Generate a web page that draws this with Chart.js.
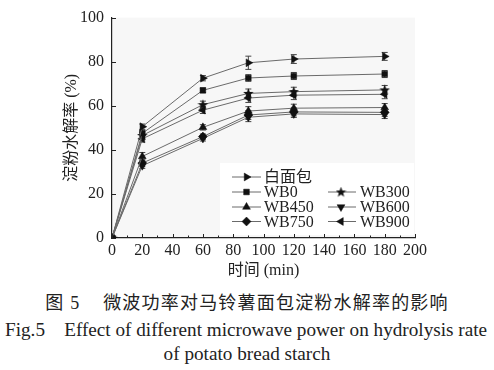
<!DOCTYPE html>
<html><head><meta charset="utf-8">
<script src="https://cdn.jsdelivr.net/npm/chart.js@4"></script>
<style>
html,body{margin:0;padding:0;background:#fff;width:494px;height:370px;overflow:hidden;}
#wrap{position:absolute;left:0;top:0;width:494px;height:285px;}
.cap{position:absolute;white-space:nowrap;color:#222;font-family:"Liberation Serif","Times New Roman","Noto Sans CJK SC",serif;}
</style></head><body>
<div id="wrap"><canvas id="c" width="494" height="285"></canvas></div>
<div class="cap" style="left:0;width:494px;text-align:center;top:288px;font-size:18px;letter-spacing:1.2px;">图 5&nbsp;&nbsp;&nbsp;&nbsp;微波功率对马铃薯面包淀粉水解率的影响</div>
<div class="cap" style="left:5px;top:319px;font-size:19.2px;">Fig.5&nbsp;&nbsp;&nbsp;&nbsp;Effect of different microwave power on hydrolysis rate</div>
<div class="cap" style="left:0;width:494px;text-align:center;top:343px;font-size:19.2px;">of potato bread starch</div>
<script>
// ---- data ----
const times = [0, 20, 60, 90, 120, 180];
const seriesNames = ['白面包', 'WB0', 'WB300', 'WB450', 'WB600', 'WB750', 'WB900'];
const whiteBread = [0, 50.5, 72.5, 79.5, 81.2, 82.4];
const wb0   = [0, 47.5, 67.0, 72.6, 73.5, 74.4];
const wb300 = [0, 46.5, 60.5, 65.6, 66.4, 67.2];
const wb450 = [0, 37.0, 50.2, 57.6, 58.9, 59.2];
const wb600 = [0, 32.8, 45.2, 54.8, 56.3, 56.0];
const wb750 = [0, 34.0, 46.0, 55.8, 57.2, 57.0];
const wb900 = [0, 45.0, 58.0, 63.5, 64.8, 65.2];
const errWhiteBread = [0, 1.2, 1.2, 3.0, 2.0, 1.8];
const errWb0   = [0, 1.5, 1.0, 1.5, 1.6, 1.6];
const errWb300 = [0, 1.5, 1.6, 2.0, 2.0, 2.0];
const errWb450 = [0, 1.8, 1.2, 2.0, 1.8, 1.8];
const errWb600 = [0, 1.2, 1.2, 2.0, 1.6, 1.8];
const errWb750 = [0, 1.5, 1.2, 2.0, 1.8, 1.8];
const errWb900 = [0, 1.5, 1.5, 2.0, 2.0, 2.0];
const xTicks = [0, 20, 40, 60, 80, 100, 120, 140, 160, 180, 200];
const yTicks = [0, 20, 40, 60, 80, 100];

const LATIN = 'Times New Roman, Liberation Serif, DejaVu Serif, serif';
const FONT = 'Times New Roman, Liberation Serif, Noto Sans CJK SC, serif';
Chart.defaults.font.family = LATIN;

// filled star point style
const star = document.createElement('canvas');
star.width = 11; star.height = 11;
(function(){
  const g = star.getContext('2d');
  g.fillStyle = '#111';
  g.beginPath();
  for (let i = 0; i < 10; i++) {
    const r = i % 2 === 0 ? 5.5 : 2.3;
    const a = -Math.PI/2 + i*Math.PI/5;
    const px = 5.5 + r*Math.cos(a), py = 5.8 + r*Math.sin(a);
    i ? g.lineTo(px, py) : g.moveTo(px, py);
  }
  g.closePath(); g.fill();
})();

const vals = [whiteBread, wb0, wb300, wb450, wb600, wb750, wb900];
const errs = [errWhiteBread, errWb0, errWb300, errWb450, errWb600, errWb750, errWb900];
const styles = [
  {s:'triangle', rot:90, r:4.5},
  {s:'rect', rot:0, r:4},
  {s:star, rot:0, r:5},
  {s:'triangle', rot:0, r:4.5},
  {s:'triangle', rot:180, r:4.5},
  {s:'rectRot', rot:0, r:4.5},
  {s:'triangle', rot:270, r:4.5}
];

const datasets = seriesNames.map((n, i) => ({
  label: n,
  data: times.map((t, j) => ({x: t, y: vals[i][j]})),
  errors: errs[i],
  borderColor: '#6a6a6a',
  borderWidth: 1,
  backgroundColor: '#111',
  pointBackgroundColor: '#111',
  pointBorderColor: '#111',
  pointBorderWidth: 0.5,
  pointStyle: styles[i].s,
  pointRotation: styles[i].rot,
  pointRadius: styles[i].r,
  tension: 0
}));

const bgPlugin = {
  id: 'bg',
  beforeDraw(chart) {
    const {ctx, chartArea: a} = chart;
    ctx.save(); ctx.fillStyle = '#f7f7f7';
    ctx.fillRect(a.left, a.top, a.right - a.left, a.bottom - a.top);
    ctx.restore();
  }
};

const errPlugin = {
  id: 'err',
  beforeDatasetsDraw(chart) {
    const ctx = chart.ctx, ys = chart.scales.y;
    ctx.save(); ctx.strokeStyle = '#444'; ctx.lineWidth = 1;
    chart.data.datasets.forEach((ds, i) => {
      const meta = chart.getDatasetMeta(i);
      meta.data.forEach((p, j) => {
        const e = ds.errors[j]; if (!e) return;
        const v = ds.data[j].y;
        const y1 = ys.getPixelForValue(v + e), y2 = ys.getPixelForValue(v - e);
        ctx.beginPath();
        ctx.moveTo(p.x, y1); ctx.lineTo(p.x, y2);
        ctx.moveTo(p.x - 3, y1); ctx.lineTo(p.x + 3, y1);
        ctx.moveTo(p.x - 3, y2); ctx.lineTo(p.x + 3, y2);
        ctx.stroke();
      });
    });
    ctx.restore();
  }
};

const tickPlugin = {
  id: 'ticks',
  afterDraw(chart) {
    const ctx = chart.ctx, xs = chart.scales.x, ys = chart.scales.y, a = chart.chartArea;
    ctx.save(); ctx.strokeStyle = '#222'; ctx.lineWidth = 1;
    ctx.beginPath();
    for (let v = 0; v <= 200; v += 10) {
      const x = Math.round(xs.getPixelForValue(v)) + 0.5;
      const len = v % 20 === 0 ? 4 : 2.5;
      ctx.moveTo(x, a.bottom); ctx.lineTo(x, a.bottom - len);
    }
    yTicks.forEach(v => {
      const y = Math.round(ys.getPixelForValue(v)) + 0.5;
      ctx.moveTo(a.left, y); ctx.lineTo(a.left + 4, y);
    });
    ctx.stroke();
    ctx.restore();
  }
};

const legendLayout = [
  [0, 0], [1, 0], [1, 1], [2, 0], [2, 1], [3, 0], [3, 1]
];
const legendPlugin = {
  id: 'customLegend',
  afterDatasetsDraw(chart) {
    const ctx = chart.ctx;
    ctx.save();
    ctx.fillStyle = '#fff';
    ctx.fillRect(220, 163, 194, 72);
    const rows = [177, 192, 207, 221.5];
    const cols = [{l: 232, m: 246.5, r: 261, t: 264}, {l: 328, m: 341, r: 356, t: 360}];
    chart.data.datasets.forEach((ds, i) => {
      const [ri, ci] = legendLayout[i];
      const y = rows[ri], c = cols[ci];
      ctx.strokeStyle = ds.borderColor; ctx.lineWidth = 1;
      ctx.beginPath(); ctx.moveTo(c.l, y); ctx.lineTo(c.r, y); ctx.stroke();
      ctx.fillStyle = '#111'; ctx.strokeStyle = '#111'; ctx.lineWidth = 0.5;
      Chart.helpers.drawPoint(ctx, {pointStyle: ds.pointStyle, rotation: ds.pointRotation, radius: ds.pointRadius, borderWidth: 0.5}, c.m, y);
      ctx.fillStyle = '#222';
      ctx.font = '16px ' + (/[^\x00-\x7f]/.test(ds.label) ? FONT : LATIN);
      ctx.textBaseline = 'middle';
      ctx.fillText(ds.label, c.t, y + 1);
    });
    ctx.restore();
  }
};

function build() {
  new Chart(document.getElementById('c'), {
    type: 'line',
    data: {datasets},
    plugins: [bgPlugin, errPlugin, legendPlugin, tickPlugin],
    options: {
      responsive: false,
      animation: false,
      layout: {padding: {left: 62, right: 79, top: 14, bottom: 0}},
      plugins: {legend: {display: false}, tooltip: {enabled: false}},
      elements: {point: {hoverRadius: 4}},
      scales: {
        x: {
          type: 'linear', min: 0, max: 200,
          afterBuildTicks(s) { s.ticks = xTicks.map(v => ({value: v})); },
          afterFit(s) { s.height = 47; },
          grid: {display: false, drawTicks: false},
          border: {display: true, color: '#222', width: 1.2},
          ticks: {padding: 3, color: '#222', font: {family: LATIN, size: 16}, maxRotation: 0, autoSkip: false},
          title: {display: true, text: '时间 (min)', color: '#222', font: {family: FONT, size: 16}, padding: {top: 0, bottom: 5}}
        },
        y: {
          min: 0, max: 100,
          afterBuildTicks(s) { s.ticks = yTicks.map(v => ({value: v})); },
          afterFit(s) { s.width = 112 - 62; },
          grid: {display: false, drawTicks: false},
          border: {display: true, color: '#222', width: 1.2},
          ticks: {padding: 8, color: '#222', font: {family: LATIN, size: 16}},
          title: {display: true, text: '淀粉水解率 (%)', color: '#222', font: {family: FONT, size: 16}, padding: {top: 0, bottom: 0}}
        }
      }
    }
  });
}
build();
</script>
</body></html>
